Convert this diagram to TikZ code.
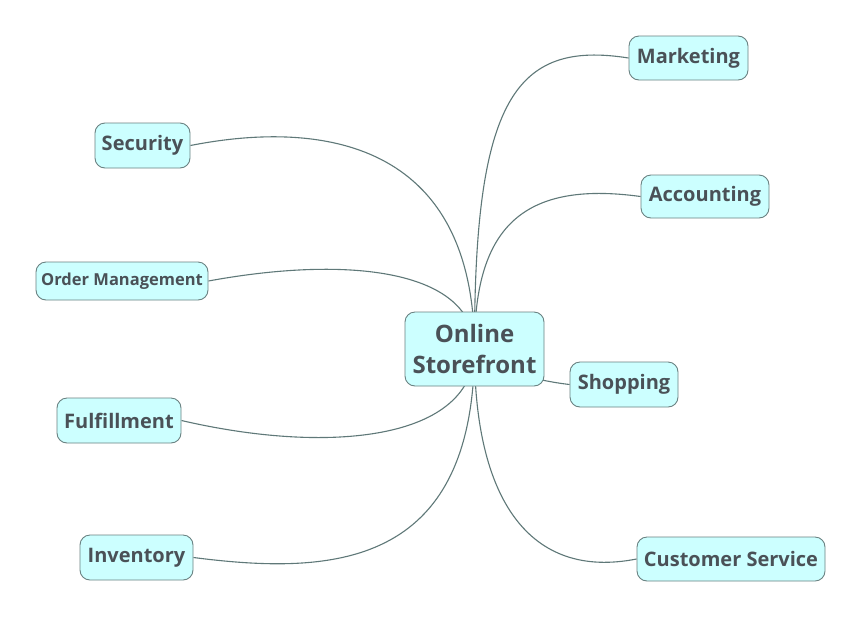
\documentclass[tikz,border=0pt]{standalone}
\usepackage{fontspec}
\setmainfont{Open Sans}
\usetikzlibrary{backgrounds}
\definecolor{txt}{HTML}{4A5157}
\definecolor{boxfill}{HTML}{CCFFFF}
\definecolor{boxline}{HTML}{6A8282}
\definecolor{edge}{HTML}{5F7878}
\begin{document}
\begin{tikzpicture}[x=1pt,y=-1pt,
  topic/.style={draw=boxline, line width=0.9pt, fill=boxfill, rounded corners=10pt,
    text=txt, font=\bfseries\fontsize{20}{24}\selectfont, inner sep=0pt, align=center},
  rootbox/.style={topic, font=\bfseries\fontsize{24}{31}\selectfont},
  smallbox/.style={topic, font=\bfseries\fontsize{16.5}{20}\selectfont},
  link/.style={draw=edge, line width=1.1pt}]
\useasboundingbox (0,0) rectangle (862,619);
\node[rootbox, minimum width=139pt, minimum height=74pt] (root) at (474.5,349) {Online\\Storefront};
\node[topic, minimum width=119pt, minimum height=44pt] (mkt) at (688.5,58) {Marketing};
\node[topic, minimum width=128pt, minimum height=43pt] (acc) at (705,196.5) {Accounting};
\node[topic, minimum width=108pt, minimum height=45pt] (shop) at (624,384.5) {Shopping};
\node[topic, minimum width=188pt, minimum height=44pt] (cs) at (731,559) {Customer Service};
\node[topic, minimum width=95pt, minimum height=45pt] (sec) at (142.5,145.5) {Security};
\node[smallbox, minimum width=172pt, minimum height=38pt] (om) at (122,281) {Order Management};
\node[topic, minimum width=124pt, minimum height=45pt] (ful) at (119,420.5) {Fulfillment};
\node[topic, minimum width=113pt, minimum height=45pt] (inv) at (136.5,557.5) {Inventory};
\begin{pgfonlayer}{background}
\fill[white] (0,0) rectangle (862,619);
\draw[link] (root.center) .. controls (474,100) and (515,40) .. (mkt.west);
\draw[link] (root.center) .. controls (474,230) and (520,180) .. (acc.west);
\draw[link] (root.center) .. controls (480,365) and (530,380) .. (shop.west);
\draw[link] (root.center) .. controls (474,500) and (530,580) .. (cs.west);
\draw[link] (root.center) .. controls (474,140) and (320,120) .. (sec.east);
\draw[link] (root.center) .. controls (474,270) and (350,255) .. (om.east);
\draw[link] (root.center) .. controls (474,440) and (330,455) .. (ful.east);
\draw[link] (root.center) .. controls (474,570) and (330,575) .. (inv.east);
\end{pgfonlayer}
\end{tikzpicture}
\end{document}
